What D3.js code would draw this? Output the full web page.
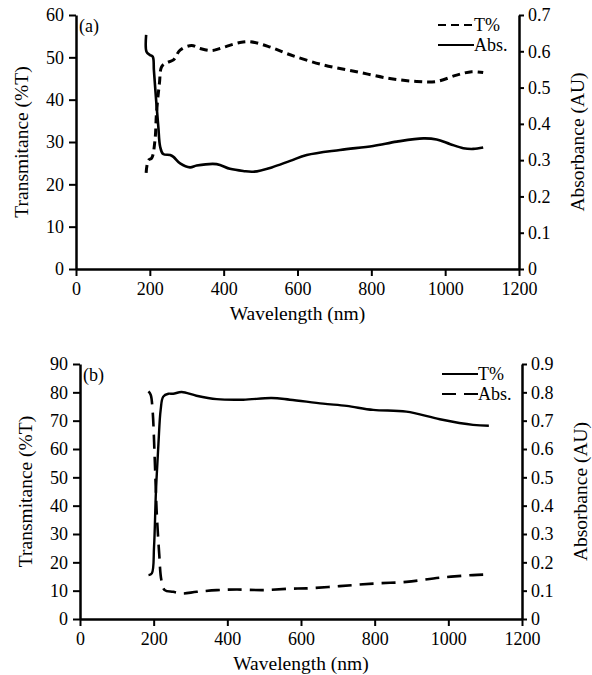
<!DOCTYPE html>
<html>
<head>
<meta charset="utf-8">
<script src="https://cdn.jsdelivr.net/npm/d3@7.9.0/dist/d3.min.js"></script>
<style>
  body { margin: 0; background: #fff; }
</style>
</head>
<body>
<svg id="chart" width="592" height="675"></svg>
<script>
// ---- data ----
// panel (a)
const nmA_T = [190, 196, 205, 214, 218, 226, 232, 245, 264, 282, 313, 336, 367, 390, 444, 471, 520, 580, 670, 760, 850, 923, 977, 1031, 1072, 1103];
const transA = [22.7, 25.7, 26.2, 30.5, 36.8, 43.9, 47.8, 48.7, 49.4, 51.7, 52.8, 52.1, 51.6, 52.1, 53.5, 53.7, 52.6, 50.6, 48.2, 46.6, 45.0, 44.3, 44.3, 45.8, 46.6, 46.4];
const nmA_Abs = [190, 191, 200, 208, 211, 217, 223, 228, 236, 255, 264, 282, 309, 327, 381, 417, 453, 480, 530, 580, 625, 715, 805, 869, 941, 977, 1014, 1049, 1076, 1103];
const absA = [0.645, 0.599, 0.590, 0.585, 0.548, 0.466, 0.392, 0.337, 0.317, 0.314, 0.309, 0.291, 0.280, 0.285, 0.289, 0.276, 0.270, 0.268, 0.280, 0.298, 0.314, 0.328, 0.339, 0.351, 0.360, 0.357, 0.344, 0.333, 0.331, 0.335];

// panel (b)
const nmB_T = [186, 195, 201, 206, 213, 219, 226, 240, 253, 276, 316, 371, 443, 520, 570, 660, 724, 796, 886, 977, 1067, 1110];
const transB = [15.5, 16.1, 25.5, 44.4, 62, 73.8, 78.5, 79.5, 79.5, 80.1, 78.8, 77.6, 77.4, 78.0, 77.4, 76.0, 75.2, 73.8, 73.2, 70.5, 68.5, 68.2];
const nmB_Abs = [186, 192, 197, 203, 208, 215, 221, 230, 253, 276, 317, 371, 425, 500, 570, 615, 705, 796, 886, 977, 1067, 1110];
const absB = [0.803, 0.791, 0.738, 0.561, 0.384, 0.231, 0.137, 0.102, 0.096, 0.090, 0.096, 0.102, 0.104, 0.102, 0.107, 0.108, 0.116, 0.125, 0.131, 0.146, 0.155, 0.157];

const xTicks = [0, 200, 400, 600, 800, 1000, 1200];

const FONT = "Liberation Serif";
const svg = d3.select("#chart");

function drawPanel(p) {
  const x = d3.scaleLinear().domain([0, 1200]).range([p.left, p.right]);
  const yL = d3.scaleLinear().domain([0, p.tMax]).range([p.bottom, p.top]);
  const yR = d3.scaleLinear().domain([0, p.aMax]).range([p.bottom, p.top]);
  const g = svg.append("g");

  // axes
  const axes = [
    g.append("g").attr("transform", `translate(0,${p.bottom})`)
      .call(d3.axisBottom(x).tickValues(xTicks).tickFormat(d3.format("d")).tickSize(7).tickSizeOuter(0).tickPadding(6)),
    g.append("g").attr("transform", `translate(${p.left},0)`)
      .call(d3.axisLeft(yL).ticks(p.tMax / 10).tickSize(7).tickSizeOuter(0).tickPadding(5)),
    g.append("g").attr("transform", `translate(${p.right},0)`)
      .call(d3.axisRight(yR).ticks(p.aMax * 10).tickFormat(d => d === 0 ? "0" : d3.format(".1f")(d)).tickSize(5).tickSizeOuter(0).tickPadding(4))
  ];
  axes.forEach(a => {
    a.selectAll("line").attr("stroke", "#000").attr("stroke-width", 2);
    a.select(".domain").attr("stroke", "#000").attr("stroke-width", 2.5);
    a.selectAll("text").attr("font-size", 18);
  });

  // titles
  g.append("text").attr("x", (p.left + p.right) / 2).attr("y", p.bottom + 51)
    .attr("text-anchor", "middle").attr("font-size", 19.5).text("Wavelength (nm)");
  g.append("text").attr("transform", `translate(${p.left - 48},${(p.top + p.bottom) / 2}) rotate(-90)`)
    .attr("text-anchor", "middle").attr("font-size", 19.5).text("Transmitance (%T)");
  g.append("text").attr("transform", `translate(${p.right + 65},${(p.top + p.bottom) / 2}) rotate(-90)`)
    .attr("text-anchor", "middle").attr("font-size", 19.5).text("Absorbance (AU)");
  g.append("text").attr("x", p.left + 3).attr("y", p.top + 17)
    .attr("font-size", 18).text(p.label);

  // curves
  const lineT = d3.line().x(d => x(d[0])).y(d => yL(d[1])).curve(d3.curveCatmullRom);
  const lineA = d3.line().x(d => x(d[0])).y(d => yR(d[1])).curve(d3.curveCatmullRom);
  g.append("path").datum(d3.zip(p.nmT, p.tVals))
    .attr("d", lineT).attr("fill", "none").attr("stroke", "#000")
    .attr("stroke-width", p.tStyle.w).attr("stroke-dasharray", p.tStyle.dash);
  g.append("path").datum(d3.zip(p.nmA, p.aVals))
    .attr("d", lineA).attr("fill", "none").attr("stroke", "#000")
    .attr("stroke-width", p.aStyle.w).attr("stroke-dasharray", p.aStyle.dash);

  // legend
  const leg = [["T%", p.tStyle], ["Abs.", p.aStyle]];
  leg.forEach((l, i) => {
    const ly = p.top + 10 + i * 20;
    g.append("line").attr("x1", p.legX).attr("x2", p.legX + 36).attr("y1", ly).attr("y2", ly)
      .attr("stroke", "#000").attr("stroke-width", 2).attr("stroke-dasharray", l[1].dash);
    g.append("text").attr("x", p.legX + 36).attr("y", ly + 6).attr("font-size", 18).text(l[0]);
  });
}

drawPanel({
  label: "(a)", left: 76, right: 519, top: 15, bottom: 269, tMax: 60, aMax: 0.7,
  nmT: nmA_T, tVals: transA, nmA: nmA_Abs, aVals: absA,
  tStyle: { w: 3, dash: "8,5" }, aStyle: { w: 2.6, dash: null }, legX: 438
});
drawPanel({
  label: "(b)", left: 80, right: 522, top: 364, bottom: 619, tMax: 90, aMax: 0.9,
  nmT: nmB_T, tVals: transB, nmA: nmB_Abs, aVals: absB,
  tStyle: { w: 2.4, dash: null }, aStyle: { w: 2.6, dash: "14,8" }, legX: 442
});

// put the serif face on every text element directly
svg.selectAll("text").attr("font-family", FONT).attr("fill", "#000");
</script>
</body>
</html>
